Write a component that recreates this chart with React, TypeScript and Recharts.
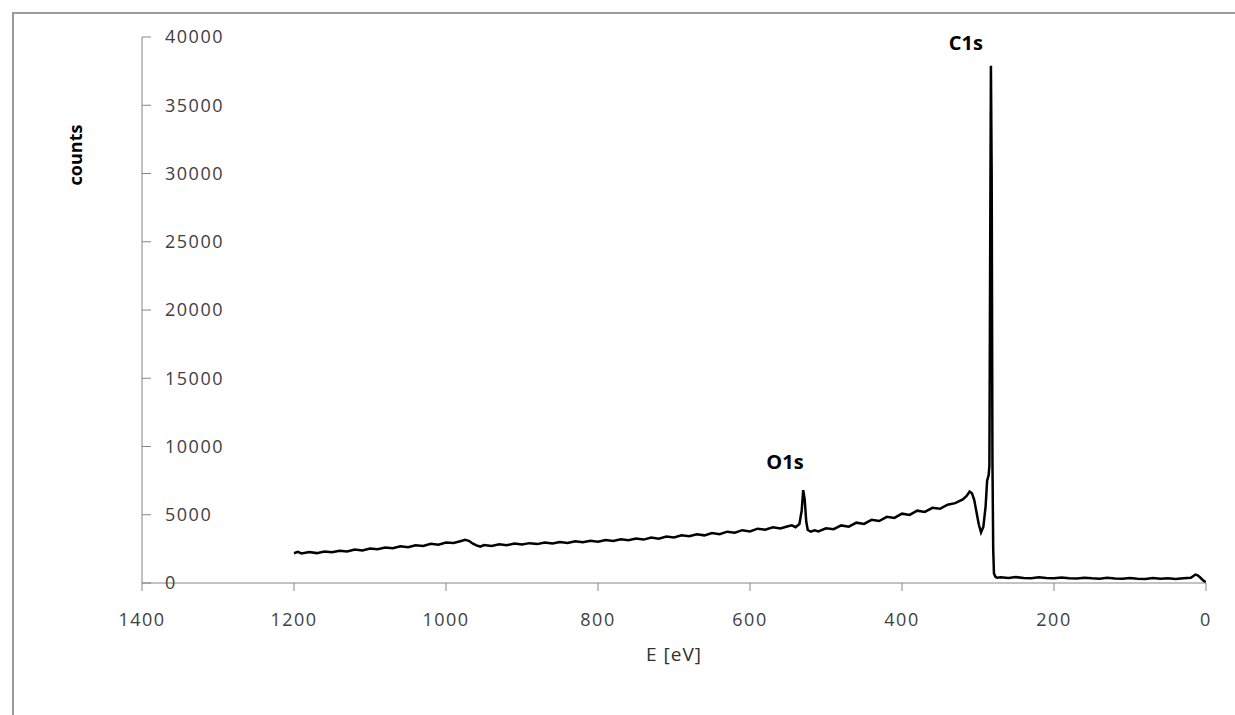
import { LineChart, Line, XAxis, YAxis, ReferenceDot, Label } from 'recharts';

const energies = [
  1200, 1195, 1190, 1180, 1170, 1160, 1150, 1140, 1130, 1120, 1110, 1100, 1090, 1080, 1070, 1060,
  1050, 1040, 1030, 1020, 1010, 1000, 990, 980, 975, 970, 965, 960, 955, 950, 940, 930, 920, 910,
  900, 890, 880, 870, 860, 850, 840, 830, 820, 810, 800, 790, 780, 770, 760, 750, 740, 730, 720,
  710, 700, 690, 680, 670, 660, 650, 640, 630, 620, 610, 600, 590, 580, 570, 560, 550, 545, 540,
  535, 532, 530, 528, 526, 524, 520, 515, 510, 500, 490, 480, 470, 460, 450, 440, 430, 420, 410,
  400, 390, 380, 370, 360, 350, 340, 330, 320, 315, 311, 308, 305, 302, 299, 296, 293, 290, 288,
  286, 285, 284, 283, 282, 281, 280, 279, 277, 275, 270, 260, 250, 240, 230, 220, 210, 200, 190,
  180, 170, 160, 150, 140, 130, 120, 110, 100, 90, 80, 70, 60, 50, 40, 30, 20, 17, 14, 11, 8, 5,
  2, 0,
];

const counts = [
  2180, 2280, 2170, 2270, 2190, 2310, 2250, 2360, 2310, 2460, 2390, 2520, 2470, 2600, 2540, 2690,
  2620, 2770, 2710, 2870, 2800, 2960, 2930, 3080, 3160, 3090, 2900, 2760, 2670, 2780, 2720, 2830,
  2760, 2890, 2820, 2920, 2850, 2970, 2890, 3010, 2940, 3060, 2980, 3100, 3030, 3150, 3080, 3200,
  3130, 3260, 3180, 3330, 3250, 3400, 3340, 3490, 3420, 3570, 3490, 3660, 3570, 3760, 3680, 3870,
  3780, 3980, 3900, 4080, 3990, 4160, 4220, 4090, 4320, 5300, 6800, 6100, 4500, 3880, 3760, 3860,
  3780, 4010, 3940, 4220, 4130, 4420, 4330, 4630, 4540, 4850, 4770, 5080, 4990, 5300, 5210, 5510,
  5440, 5740, 5850, 6120, 6380, 6700, 6580, 6100, 5200, 4300, 3700, 4100, 5600, 7500, 7900, 8600,
  24000, 37900, 30000, 9000, 2500, 700, 450, 380, 420, 360, 430, 370, 350, 420, 370, 340, 400,
  350, 330, 390, 340, 320, 380, 330, 310, 370, 320, 300, 360, 310, 350, 300, 340, 380, 500, 620,
  560, 420, 260, 120, 60,
];

const xTicks = [0, 200, 400, 600, 800, 1000, 1200, 1400];
const yTicks = [0, 5000, 10000, 15000, 20000, 25000, 30000, 35000, 40000];

// peak annotations: label, energy and counts at the label centre
const peakNames = ['C1s', 'O1s'];
const peakEnergies = [316, 554];
const peakCounts = [39600, 8900];

const data = energies.map((e, i) => ({ e, c: counts[i] }));

const font = '"Open Sans", "Liberation Sans", sans-serif';
const tickStyle = { fontSize: 18, fill: '#404040', fontFamily: font, letterSpacing: 1.5 };

export default function App() {
  return (
    <div style={{ position: 'absolute', left: 0, top: 0, width: 1235, height: 715, background: '#fff', overflow: 'hidden' }}>
      <div
        style={{
          position: 'absolute',
          left: 12,
          top: 12,
          width: 1223,
          height: 703,
          borderLeft: '2px solid #9a9a9a',
          borderTop: '2px solid #9a9a9a',
          boxSizing: 'border-box',
        }}
      />
      <div style={{ position: 'absolute', left: 0, top: 0 }}>
        <LineChart width={1235} height={715} data={data} margin={{ top: 37, right: 29, bottom: 50, left: 142 }}>
          <XAxis
            dataKey="e"
            type="number"
            domain={[0, 1400]}
            ticks={xTicks}
            reversed
            allowDataOverflow
            height={82}
            tickSize={8}
            tickMargin={22}
            stroke="#868686"
            tick={tickStyle}
          >
            <Label
              value="E [eV]"
              position="insideBottom"
              offset={4}
              style={{ fontSize: 19, fill: '#303030', fontFamily: font, letterSpacing: 1 }}
            />
          </XAxis>
          <YAxis
            type="number"
            domain={[0, 40000]}
            ticks={yTicks}
            mirror
            tickSize={9}
            tickMargin={14}
            stroke="#868686"
            tick={tickStyle}
            label={({ viewBox }: any) => (
              <text
                x={viewBox.x - 67}
                y={viewBox.y + 118}
                transform={`rotate(-90, ${viewBox.x - 67}, ${viewBox.y + 118})`}
                textAnchor="middle"
                dominantBaseline="central"
                style={{ fontSize: 18, fontWeight: 700, fill: '#000', fontFamily: font }}
              >
                counts
              </text>
            )}
          />
          <Line
            dataKey="c"
            type="linear"
            stroke="#000"
            strokeWidth={2.5}
            dot={false}
            isAnimationActive={false}
          />
          {peakNames.map((name, i) => (
            <ReferenceDot
              key={name}
              x={peakEnergies[i]}
              y={peakCounts[i]}
              r={1}
              fill="none"
              stroke="none"
              label={{
                value: name,
                position: 'center',
                style: { fontSize: 20, fontWeight: 700, fill: '#000', fontFamily: font },
              }}
            />
          ))}
        </LineChart>
      </div>
    </div>
  );
}
